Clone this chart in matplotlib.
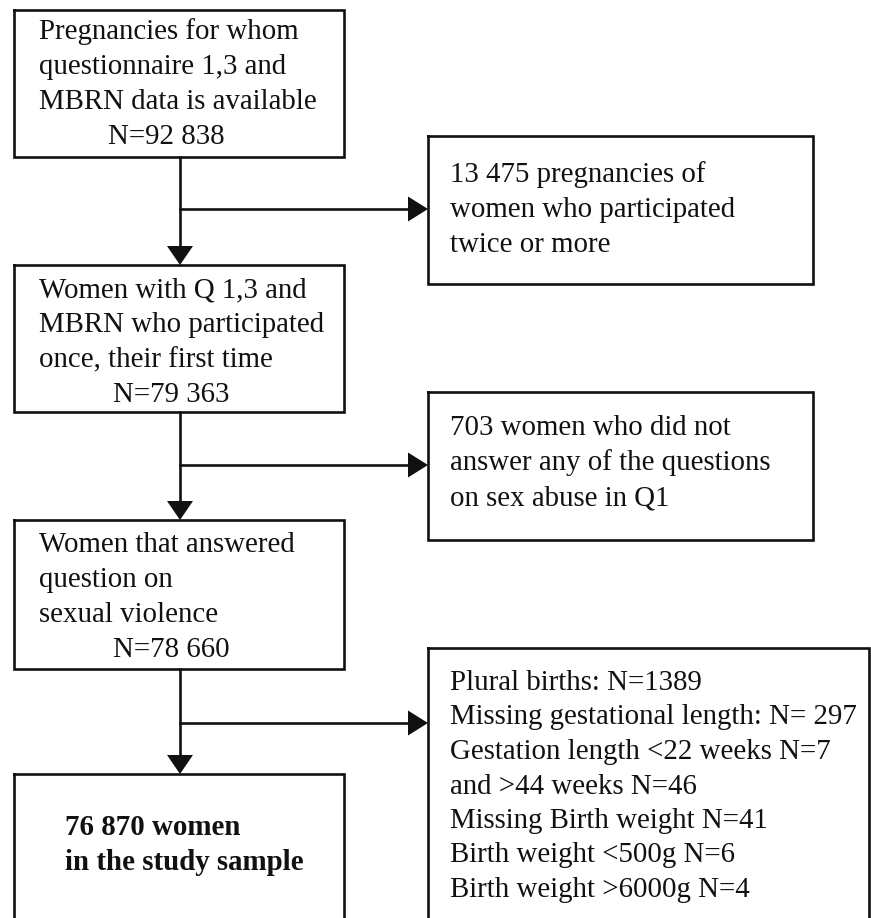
import matplotlib
matplotlib.use("Agg")
import matplotlib.pyplot as plt

# texts of the flow chart (main column and exclusion column)
main_lines = [
    ["Pregnancies for whom", "questionnaire 1,3 and", "MBRN data is available", "N=92 838"],
    ["Women with Q 1,3 and", "MBRN who participated", "once, their first time", "N=79 363"],
    ["Women that answered", "question on", "sexual violence", "N=78 660"],
]
final_lines = ["76 870 women", "in the study sample"]
excl_lines = [
    ["13 475 pregnancies of", "women who participated", "twice or more"],
    ["703 women who did not", "answer any of the questions", "on sex abuse in Q1"],
    ["Plural births: N=1389", "Missing gestational length: N= 297",
     "Gestation length <22 weeks N=7", "and >44 weeks N=46",
     "Missing Birth weight N=41", "Birth weight <500g N=6", "Birth weight >6000g N=4"],
]

# layout in pixels (y downwards)
main_boxes = [(14, 10, 344, 157), (14, 265, 344, 412), (14, 520, 344, 669)]
final_box = (14, 774, 344, 930)
excl_boxes = [(428, 136, 813, 284), (428, 392, 813, 540), (428, 648, 869, 930)]
main_first_base = [39, 297, 552]
excl_first_base = [182, 435, 690]
excl_spacing = [35, 35, 34.5]
n_x = [108, 113, 113]
branch_y = [209, 465, 723]
shaft_x = 180

fs = 20.8
lw = 1.9
font = "Liberation Serif"

fig = plt.figure(figsize=(8.71, 9.18), dpi=100)
ax = fig.add_axes([0, 0, 1, 1])
ax.set_xlim(0, 871)
ax.set_ylim(918, 0)
ax.axis("off")


def box(b):
    x0, y0, x1, y1 = b
    ax.plot([x0, x1, x1, x0, x0], [y0, y0, y1, y1, y0], color="#111111", lw=lw,
            solid_joinstyle="miter", clip_on=False)


def down_arrow(x, y0, y1):
    ax.plot([x, x], [y0, y1 - 18], color="#111111", lw=lw)
    ax.fill([x - 13, x + 13, x], [y1 - 19, y1 - 19, y1], color="#111111", lw=0)


def right_arrow(y, x0, x1):
    ax.plot([x0, x1 - 18], [y, y], color="#111111", lw=lw)
    ax.fill([x1 - 20, x1 - 20, x1], [y - 12.5, y + 12.5, y], color="#111111", lw=0)


for i, b in enumerate(main_boxes):
    box(b)
    for k, t in enumerate(main_lines[i]):
        xx = n_x[i] if k == len(main_lines[i]) - 1 else 39
        ax.text(xx, main_first_base[i] + 35 * k, t, fontsize=fs, family=font,
                va="baseline", ha="left", color="#111111")

for i, b in enumerate(excl_boxes):
    box(b)
    for k, t in enumerate(excl_lines[i]):
        ax.text(b[0] + 22, excl_first_base[i] + excl_spacing[i] * k, t, fontsize=fs,
                family=font, va="baseline", ha="left", color="#111111")

box(final_box)
for k, t in enumerate(final_lines):
    ax.text(65, 835 + 35 * k, t, fontsize=fs, family=font, weight="bold",
            va="baseline", ha="left", color="#111111")

nxt = [main_boxes[1], main_boxes[2], final_box]
for i, b in enumerate(main_boxes):
    down_arrow(shaft_x, b[3], nxt[i][1])
    right_arrow(branch_y[i], shaft_x, excl_boxes[i][0])

fig.savefig("out.png", dpi=100)
